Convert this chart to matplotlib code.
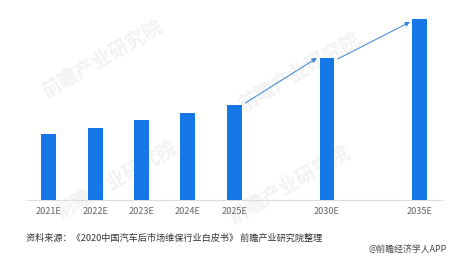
import matplotlib
matplotlib.use('Agg')
import matplotlib.pyplot as plt

plt.rcParams['font.family'] = ['Noto Sans CJK SC', 'DejaVu Sans']

# data (relative market size)
years = ['2021E', '2022E', '2023E', '2024E', '2025E', '2030E', '2035E']
slots = [0, 1, 2, 3, 4, 6, 8]
values = [66, 72, 80, 87, 95, 142, 181]
source = '资料来源：《2020中国汽车后市场维保行业白皮书》 前瞻产业研究院整理'
credit = '@前瞻经济学人APP'

bar_color = '#1677e6'
arrow_color = '#3a84d8'

fig = plt.figure(figsize=(4.67, 2.57), dpi=100)

# faint watermarks, kept behind the chart
for wx, wy in [(0.22, 0.77), (0.64, 0.72), (0.25, 0.30), (0.62, 0.28)]:
    fig.text(wx, wy, '前瞻产业研究院', fontsize=14, color='#f2f2f2', rotation=30,
             ha='center', va='center', fontweight='bold', zorder=0)

ax = fig.add_axes([27 / 467, 57 / 257, 415 / 467, 200 / 257], zorder=2)
ax.bar(slots, values, width=0.32, color=bar_color, zorder=3)

ax.set_xlim(-0.47, 8.48)
ax.set_ylim(0, 200)
ax.set_xticks(slots)
ax.set_xticklabels(years, fontsize=6.6, color='#666666')
ax.tick_params(axis='x', length=0, pad=5)
ax.set_yticks([])
for side in ['left', 'right', 'top']:
    ax.spines[side].set_visible(False)
ax.spines['bottom'].set_color('#dddddd')
ax.spines['bottom'].set_linewidth(0.8)
ax.patch.set_alpha(0)

# growth arrows between the later bars
arrows = [((slots[4] + 0.24, values[4] + 2), (slots[5] - 0.22, values[5])),
          ((slots[5] + 0.23, values[5] - 1), (slots[6] - 0.21, values[6] - 3))]
for start, end in arrows:
    ax.annotate('', xy=end, xytext=start,
                arrowprops=dict(arrowstyle='-|>', color=arrow_color, lw=0.7,
                                mutation_scale=7, shrinkA=0, shrinkB=0),
                annotation_clip=False, zorder=4)

fig.text(26 / 467, 1 - 238 / 257, source, fontsize=6.6, color='#333333', va='center', ha='left')
fig.text(447 / 467, 1 - 249 / 257, credit, fontsize=6.4, color='#444444', va='center', ha='right')

fig.savefig('out.png', dpi=100)
